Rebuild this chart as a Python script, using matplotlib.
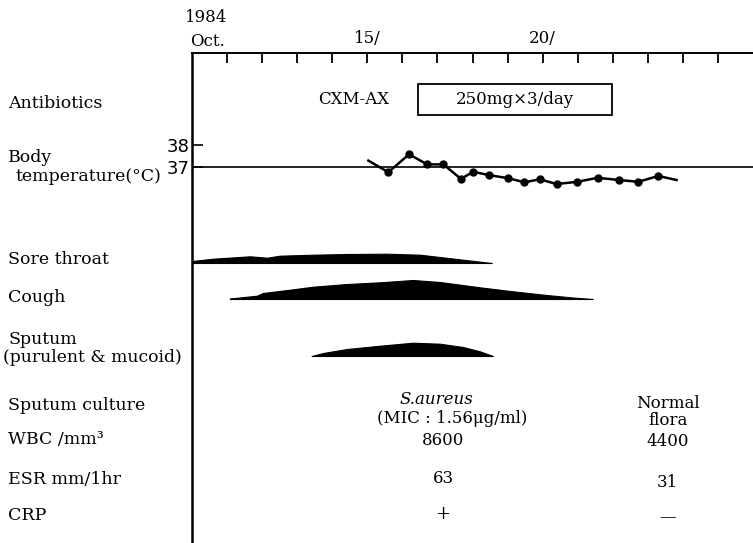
import matplotlib
matplotlib.use("Agg")
import matplotlib.pyplot as plt
import numpy as np
from matplotlib.patches import Rectangle

plt.rcParams['font.family'] = ['DejaVu Serif']

# ---- data (days of Oct. 1984) ----
temp_day = [15.03, 15.6, 16.19, 16.71, 17.17, 17.67, 18.02, 18.47, 19.02,
            19.48, 19.92, 20.4, 20.99, 21.57, 22.18, 22.73, 23.3, 23.82]
temp_c = [37.30, 36.78, 37.58, 37.13, 37.13, 36.48, 36.80, 36.65, 36.51,
          36.33, 36.46, 36.25, 36.35, 36.53, 36.43, 36.35, 36.61, 36.43]

throat_day = [10.0, 10.6, 11.65, 12.14, 12.5, 13.45, 14.42, 15.56, 16.5, 17.07, 17.73, 18.55]
throat_lvl = [2, 4.3, 6.7, 5.3, 7.3, 8.3, 9, 9.3, 8.3, 6, 3.3, 0]

cough_day = [11.08, 11.85, 12.02, 12.79, 13.45, 14.42, 15.36, 16.3, 17.07, 18.21, 19.15, 20.12, 20.86, 21.43]
cough_lvl = [0.5, 3.3, 6, 9.3, 12.3, 15, 16.7, 19, 17, 11.7, 7.7, 4, 1.5, 0]

sputum_day = [13.41, 13.74, 14.42, 15.36, 16.3, 17.07, 17.73, 18.21, 18.58]
sputum_lvl = [0, 3, 7, 10.3, 13.3, 12.3, 9, 4.7, 0]

abx_name = 'CXM-AX'
abx_dose = '250mg×3/day'
abx_start, abx_end = 16.44, 21.97

lab_days = [17.16, 23.57]
culture = ['S.aureus', 'Normal\nflora']
mic = '(MIC : 1.56μg/ml)'
wbc = ['8600', '4400']
esr = ['63', '31']
crp = ['+', '—']

W, H = 753, 543
fig = plt.figure(figsize=(7.53, 5.43), dpi=100)

# main frame: x in days, y in rows measured from page top
ax = fig.add_axes([192 / W, 0, 1 - 192 / W, 1 - 53 / H])
ax.set_xlim(10, 26)
ax.set_ylim(543, 53)
for s in ['right', 'bottom']:
    ax.spines[s].set_visible(False)
ax.spines['left'].set_linewidth(1.8)
ax.spines['top'].set_linewidth(1.4)
ax.xaxis.tick_top()
ax.set_xticks(range(11, 26))
ax.set_xticklabels(['15/' if d == 15 else '20/' if d == 20 else '' for d in range(11, 26)],
                   fontsize=12)
ax.tick_params(axis='x', direction='in', length=7, width=1.3, pad=4)
ax.set_yticks([])

# antibiotics
ax.text(14.62, 100, abx_name, ha='center', va='center', fontsize=12)
ax.add_patch(Rectangle((abx_start, 84), abx_end - abx_start, 31,
                       fill=False, lw=1.3, ec='black'))
ax.text((abx_start + abx_end) / 2, 100, abx_dose, ha='center', va='center', fontsize=12)

# symptoms
for days, lvl, base in [(throat_day, throat_lvl, 263),
                        (cough_day, cough_lvl, 299),
                        (sputum_day, sputum_lvl, 356)]:
    lvl = np.array(lvl)
    ax.fill_between(days, base, base - lvl, color='black', lw=0.8, ec='black')

# lab results
ax.text(lab_days[0] - 0.2, 400, culture[0], ha='center', va='center', fontsize=12, style='italic')
ax.text(lab_days[0] + 0.25, 419, mic, ha='center', va='center', fontsize=12)
ax.text(lab_days[1], 412, culture[1], ha='center', va='center', fontsize=12, linespacing=0.95)
for i, d in enumerate(lab_days):
    ax.text(d, 441 + i, wbc[i], ha='center', va='center', fontsize=12)
    ax.text(d, 479 + 4 * i, esr[i], ha='center', va='center', fontsize=12)
    ax.text(d, 514 + 4 * i, crp[i], ha='center', va='center', fontsize=13 - i)

# temperature panel
axt = fig.add_axes([192 / W, (543 - 200) / H, 1 - 192 / W, 70 / H], sharex=ax)
axt.patch.set_visible(False)
for s in axt.spines.values():
    s.set_visible(False)
axt.set_ylim(37 - (200 - 167.3) / 22.3, 37 + (167.3 - 130) / 22.3)
axt.axhline(37, color='black', lw=1.2)
axt.plot(temp_day, temp_c, color='black', lw=1.8)
axt.plot(temp_day[1:-1], temp_c[1:-1], 'o', color='black', ms=5)
axt.set_yticks([37, 38])
axt.set_yticklabels(['37', '38'], family='DejaVu Sans', fontsize=13)
axt.tick_params(axis='y', direction='in', length=8, width=1.2, pad=2)
axt.tick_params(axis='x', which='both', bottom=False, top=False,
                labelbottom=False, labeltop=False)

# row labels
def lab(x, y, s, size=12.5):
    fig.text(x / W, 1 - y / H, s, ha='left', va='center', fontsize=size)

fig.text(185 / W, 1 - 18 / H, '1984', ha='left', va='center', fontsize=12)
fig.text(190 / W, 1 - 41 / H, 'Oct.', ha='left', va='center', fontsize=12)
lab(8, 103, 'Antibiotics')
lab(8, 157, 'Body')
lab(16, 177, 'temperature(°C)')
lab(8, 259, 'Sore throat')
lab(8, 297, 'Cough')
lab(8, 340, 'Sputum')
lab(3, 358, '(purulent & mucoid)', 12.3)
lab(8, 405, 'Sputum culture')
lab(8, 440, 'WBC /mm³')
lab(8, 479, 'ESR mm/1hr')
lab(8, 515, 'CRP')

fig.savefig('out.png', dpi=100)
